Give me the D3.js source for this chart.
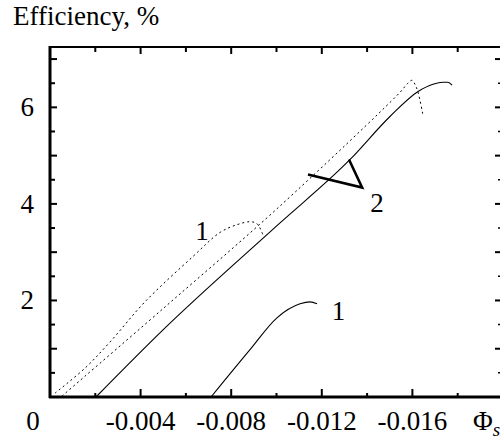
<!DOCTYPE html>
<html>
<head>
<meta charset="utf-8">
<script src="https://cdn.jsdelivr.net/npm/d3@7"></script>
<style>
  body { margin: 0; background: #fff; }
</style>
</head>
<body>
<div id="chart-area"></div>
<script>
// values (phi_s, efficiency %)
const solidLongPhi = [-0.00203, -0.00499, -0.01007, -0.01325, -0.01501, -0.01625, -0.01691, -0.01735, -0.01757, -0.01775]
const solidLongEff = [0, 1.39, 3.57, 4.92, 5.81, 6.33, 6.48, 6.52, 6.52, 6.46]

const solidShortPhi = [-0.00711, -0.00883, -0.01002, -0.01104, -0.01148, -0.01179]
const solidShortEff = [0, 0.98, 1.64, 1.93, 1.97, 1.93]

const dotLongPhi = [-0.00053, -0.00499, -0.01007, -0.01545, -0.0158, -0.01598, -0.01611, -0.01625, -0.01647]
const dotLongEff = [0.02, 1.83, 3.92, 6.31, 6.50, 6.56, 6.48, 6.31, 5.83]

const dotBumpPhi = [-0.00022, -0.00155, -0.00265, -0.00419, -0.00631, -0.00751, -0.00826, -0.00883, -0.00914, -0.0094]
const dotBumpEff = [0.08, 0.60, 1.14, 1.97, 2.91, 3.41, 3.57, 3.63, 3.59, 3.36]

// leader mark for label 2
const markPhi = [-0.01139, -0.01378, -0.0132]
const markEff = [4.61, 4.34, 4.92]

const xMajor = [-0.004, -0.008, -0.012, -0.016]
const xMinor = [-0.002, -0.006, -0.010, -0.014, -0.018]
const xTickLabels = ['-0.004', '-0.008', '-0.012', '-0.016']
const yLabelTicks = [2, 4, 6]
const yMajor = [1, 2, 3, 4, 5, 6, 7]
const yMinor = [0.5, 1.5, 2.5, 3.5, 4.5, 5.5, 6.5]

const curveLabels = [
  {text: '1', phi: -0.00671, eff: 3.26},
  {text: '1', phi: -0.01274, eff: 1.60},
  {text: '2', phi: -0.01444, eff: 3.84}
]

const serif = '"Liberation Serif", "Times New Roman", Times, "DejaVu Serif", serif'

const svg = d3.select('#chart-area')
  .append('svg')
  .attr('width', 500)
  .attr('height', 436)
  .attr('font-family', serif)
  .style('font-family', serif)

const x = d3.scaleLinear()
  .domain([0, -0.02])
  .range([50, 503])

const y = d3.scaleLinear()
  .domain([0, 7.25])
  .range([397, 47])

const line = d3.line()
  .x(d => x(d[0]))
  .y(d => y(d[1]))
  .curve(d3.curveMonotoneX)

const dotLine = d3.line()
  .x(d => x(d[0]))
  .y(d => y(d[1]))
  .curve(d3.curveCatmullRom)

const zip = (a, b) => a.map((v, i) => [v, b[i]])

// curves
svg.append('path')
  .attr('d', line(zip(solidLongPhi, solidLongEff)))
  .attr('fill', 'none').attr('stroke', '#000').attr('stroke-width', 1.1)

svg.append('path')
  .attr('d', line(zip(solidShortPhi, solidShortEff)))
  .attr('fill', 'none').attr('stroke', '#000').attr('stroke-width', 1.1)

svg.append('path')
  .attr('d', dotLine(zip(dotLongPhi, dotLongEff)))
  .attr('fill', 'none').attr('stroke', '#000').attr('stroke-width', 1)
  .attr('stroke-dasharray', '2,3')

svg.append('path')
  .attr('d', dotLine(zip(dotBumpPhi, dotBumpEff)))
  .attr('fill', 'none').attr('stroke', '#000').attr('stroke-width', 1)
  .attr('stroke-dasharray', '2,3')

svg.append('path')
  .attr('d', d3.line().x(d => x(d[0])).y(d => y(d[1]))(zip(markPhi, markEff)))
  .attr('fill', 'none').attr('stroke', '#000').attr('stroke-width', 2.6)

curveLabels.forEach(l => {
  svg.append('text')
    .attr('x', x(l.phi))
    .attr('y', y(l.eff))
    .attr('text-anchor', 'middle')
    .attr('font-size', '27px')
    .text(l.text)
})

// frame
const frame = svg.append('g').attr('fill', 'none').attr('stroke', '#000')
frame.append('line').attr('x1', 50).attr('x2', 50).attr('y1', 46).attr('y2', 398).attr('stroke-width', 3)
frame.append('line').attr('x1', 49).attr('x2', 505).attr('y1', 397).attr('y2', 397).attr('stroke-width', 3)
frame.append('line').attr('x1', 49).attr('x2', 505).attr('y1', 47).attr('y2', 47).attr('stroke-width', 2)
frame.append('line').attr('x1', 504).attr('x2', 504).attr('y1', 46).attr('y2', 398).attr('stroke-width', 3)

// ticks, all pointing inward
const tickG = svg.append('g').attr('stroke', '#000').attr('stroke-width', 2)
xMajor.forEach(v => {
  tickG.append('line').attr('x1', x(v)).attr('x2', x(v)).attr('y1', 397).attr('y2', 389)
  tickG.append('line').attr('x1', x(v)).attr('x2', x(v)).attr('y1', 47).attr('y2', 54)
})
xMinor.forEach(v => {
  tickG.append('line').attr('x1', x(v)).attr('x2', x(v)).attr('y1', 397).attr('y2', 393)
  tickG.append('line').attr('x1', x(v)).attr('x2', x(v)).attr('y1', 47).attr('y2', 52)
})
yMajor.forEach(v => {
  tickG.append('line').attr('x1', 50).attr('x2', 57).attr('y1', y(v)).attr('y2', y(v))
  tickG.append('line').attr('x1', 503).attr('x2', 495).attr('y1', y(v)).attr('y2', y(v))
})
yMinor.forEach(v => {
  tickG.append('line').attr('x1', 50).attr('x2', 55).attr('y1', y(v)).attr('y2', y(v))
  tickG.append('line').attr('x1', 503).attr('x2', 498).attr('y1', y(v)).attr('y2', y(v)).attr('stroke-width', 1.5)
})

// tick labels
xMajor.forEach((v, i) => {
  svg.append('text')
    .attr('x', x(v))
    .attr('y', 430)
    .attr('text-anchor', 'middle')
    .attr('font-size', '27px')
    .text(xTickLabels[i])
})
svg.append('text')
  .attr('x', 33)
  .attr('y', 430)
  .attr('text-anchor', 'middle')
  .attr('font-size', '27px')
  .text('0')

yLabelTicks.forEach(v => {
  svg.append('text')
    .attr('x', 34)
    .attr('y', y(v))
    .attr('dy', '0.33em')
    .attr('text-anchor', 'end')
    .attr('font-size', '27px')
    .text(v)
})

// axis titles
svg.append('text')
  .attr('x', 13)
  .attr('y', 25)
  .attr('font-size', '27px')
  .text('Efficiency, %')

let phiLabel = svg.append('text')
  .attr('x', 473)
  .attr('y', 430)
  .attr('font-size', '27px')
phiLabel.append('tspan').text('Φ')
phiLabel.append('tspan').attr('dy', 6).attr('font-size', '19px').attr('font-style', 'italic').text('s')
</script>
</body>
</html>
